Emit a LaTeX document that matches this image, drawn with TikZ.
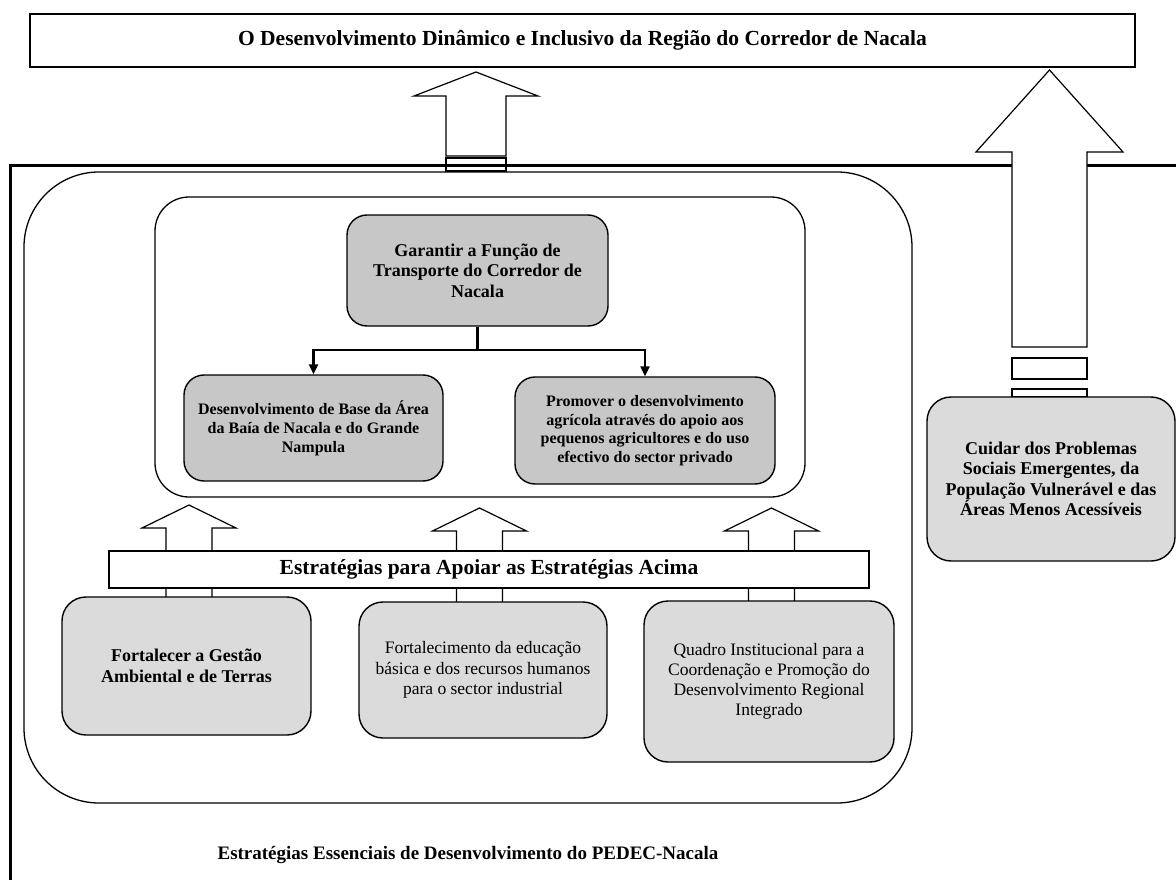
\documentclass[tikz,border=0pt]{standalone}
\usepackage{fontspec}
\setmainfont{Liberation Serif}
\usepackage{tikz}
\usetikzlibrary{positioning}
\usetikzlibrary{arrows.meta,calc}
\usepackage{xcolor}
\definecolor{boxdark}{gray}{0.78}
\definecolor{boxlight}{gray}{0.86}
\pgfkeys{tikz/mybox/.style={draw,line width=1.4pt,rounded corners=20pt,align=center,inner sep=0pt,font=\bfseries\fontsize{18}{20.5}\selectfont}}
\pgfkeys{tikz/myblock/.style={draw,line width=1.2pt,fill=white,line join=miter}}
\pgfkeys{tikz/mylink/.style={line width=2.2pt}}

\begin{document}
\begin{tikzpicture}[x=1pt,y=-1pt]
	\useasboundingbox (0,0) rectangle (1176,880);

	\node [draw, line width=2.2pt, minimum width=1105pt, minimum height=53pt, inner sep=0pt,
	  font=\bfseries\fontsize{21.5}{24}\selectfont] (goal) at (582.5,40.5)
	  {O Desenvolvimento Dinâmico e Inclusivo da Região do Corredor de Nacala};

	\node [draw, line width=1.3pt, rounded corners=75pt, minimum width=888pt, minimum height=631pt] (core) at (468,487.5) {};
	\node [draw, line width=1.3pt, rounded corners=34pt, minimum width=650pt, minimum height=300pt] (main) at (480,347) {};

	\node [mybox, fill=boxdark, minimum width=261pt, minimum height=111pt] (transp) at (477.5,270.5)
	  {Garantir a Função de\\Transporte do Corredor de\\Nacala};
	\node [mybox, fill=boxdark, minimum width=259pt, minimum height=106pt,
	  font=\bfseries\fontsize{16}{19}\selectfont] (bay) at (313.5,428)
	  {Desenvolvimento de Base da Área\\da Baía de Nacala e do Grande\\Nampula};
	\node [mybox, fill=boxdark, minimum width=260pt, minimum height=107pt,
	  font=\bfseries\fontsize{16}{18.5}\selectfont] (agri) at (645,430.5)
	  {Promover o desenvolvimento\\agrícola através do apoio aos\\pequenos agricultores e do uso\\efectivo do sector privado};

	\coordinate (split) at ($(transp.south)+(0,23)$);
	\draw[mylink] (transp.south) -- (split);
	\draw[mylink, -{Triangle[length=10pt,width=9pt]}] (split) -| (bay.north);
	\draw[mylink, -{Triangle[length=10pt,width=9pt]}] (split) -| (agri.north);

	\foreach \cx/\ty/\by in {189/505/597, 479.5/508/602, 771.5/508/601}
	  \draw[myblock] (\cx-23,\by) -- (\cx-23,\ty+23) -- (\cx-47,\ty+23) -- (\cx,\ty)
	    -- (\cx+47,\ty+23) -- (\cx+23,\ty+23) -- (\cx+23,\by);

	\node [mybox, fill=boxlight, rounded corners=24pt, minimum width=249pt, minimum height=138pt] (gest) at (186.5,666)
	  {Fortalecer a Gestão\\Ambiental e de Terras};
	\node [mybox, fill=boxlight, rounded corners=24pt, minimum width=248pt, minimum height=136pt,
	  font=\fontsize{17.5}{20.5}\selectfont] (educ) at (483,670)
	  {Fortalecimento da educação\\básica e dos recursos humanos\\para o sector industrial};
	\node [mybox, fill=boxlight, rounded corners=24pt, minimum width=250pt, minimum height=161pt,
	  font=\fontsize{17.5}{20}\selectfont] (inst) at (769,681.5)
	  {Quadro Institucional para a\\Coordenação e Promoção do\\Desenvolvimento Regional\\Integrado};

	\node [draw, line width=1.2pt, fill=white, minimum width=760pt, minimum height=37pt, inner sep=0pt,
	  font=\bfseries\fontsize{21.5}{24}\selectfont] (support) at (489,569.5)
	  {Estratégias para Apoiar as Estratégias Acima};

	\node [below=39pt of core, font=\bfseries\fontsize{19}{22}\selectfont] (caption)
	  {Estratégias Essenciais de Desenvolvimento do PEDEC-Nacala};

	\draw[myblock] (446,156) -- (446,96) -- (414,96) -- (476,72) -- (538,96) -- (506,96) -- (506,156) -- cycle;
	\draw[myblock] (446,158) rectangle (506,165);
	\draw[myblock] (446,165) rectangle (506,171);

	\draw[line width=3pt] (10,880) -- (10,166) -- (1176,166);

	\draw[myblock] (1012,347) -- (1012,152) -- (976,152) -- (1049.5,70) -- (1123,152) -- (1087,152) -- (1087,347) -- cycle;
	\draw[myblock] (1012,358) rectangle (1087,379);
	\draw[myblock] (1012,389) rectangle (1087,397);

	\node [mybox, fill=boxlight, rounded corners=24pt, minimum width=248pt, minimum height=164pt] (social) at (1051,479)
	  {Cuidar dos Problemas\\Sociais Emergentes, da\\População Vulnerável e das\\Áreas Menos Acessíveis};
\end{tikzpicture}
\end{document}
